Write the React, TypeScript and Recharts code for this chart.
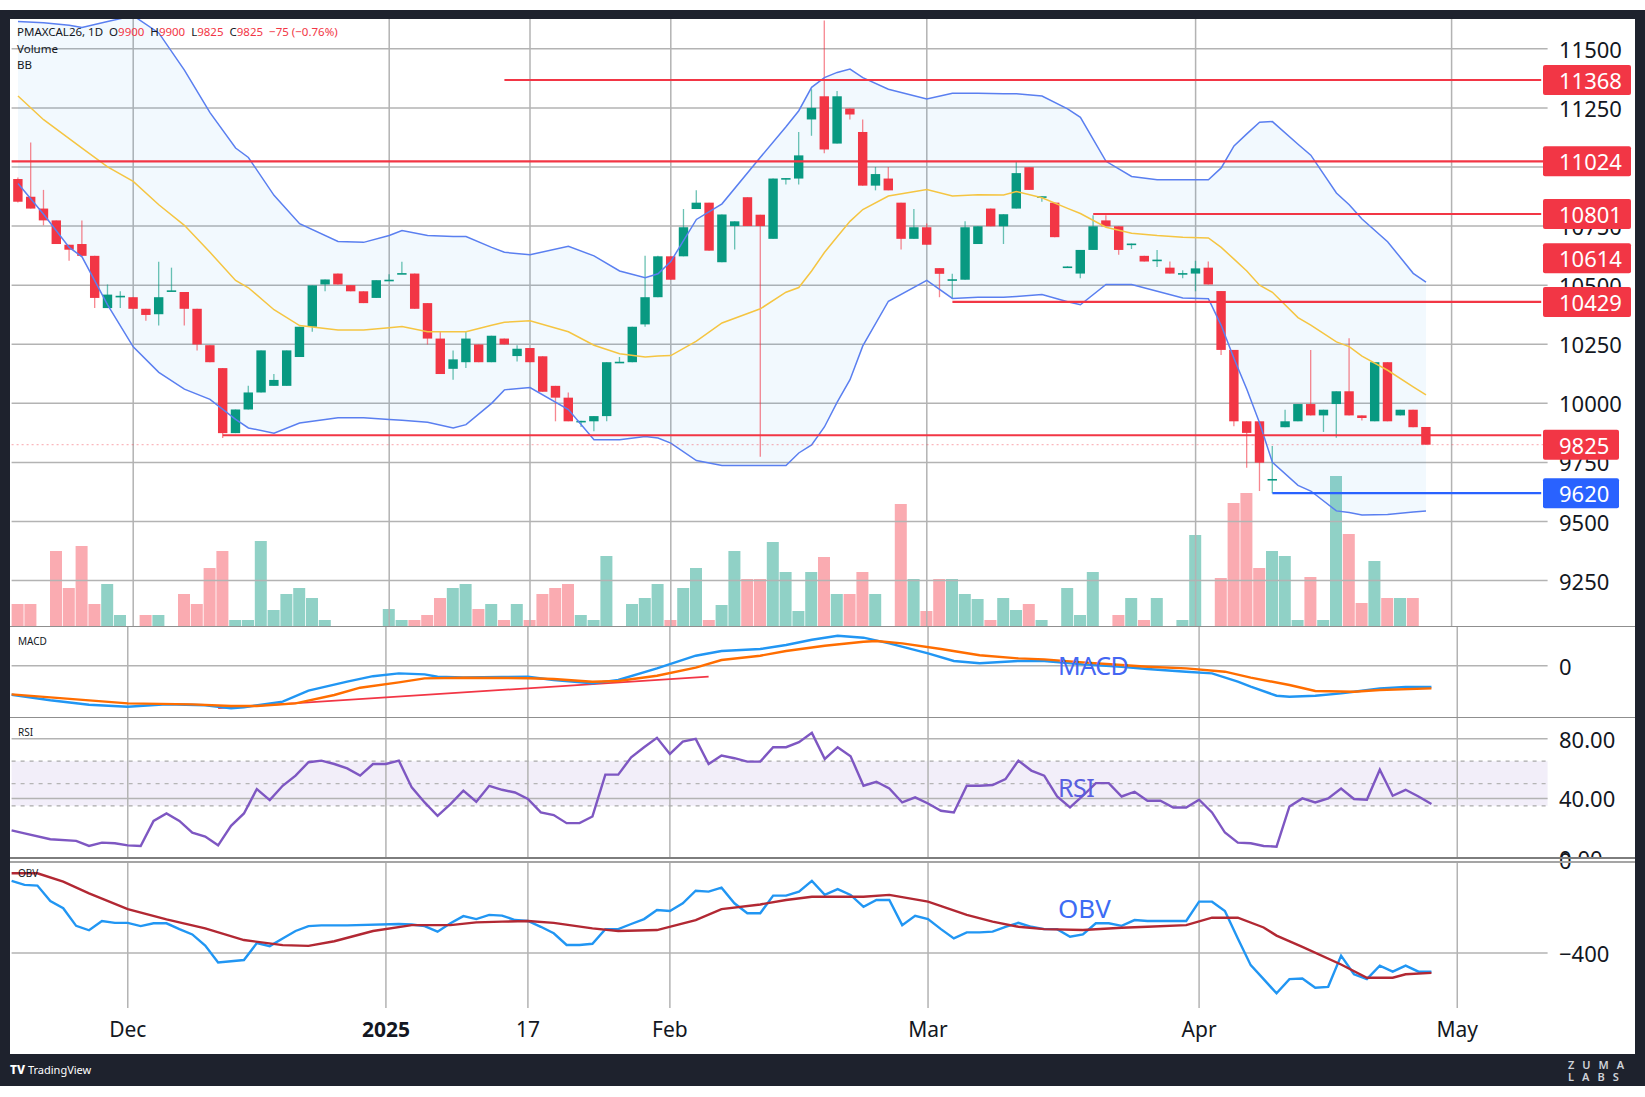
import React from "react";
import {
  ComposedChart,
  Bar,
  Line,
  Area,
  XAxis,
  YAxis,
  ReferenceLine,
  ReferenceArea,
  Cell,
} from "recharts";

const FONT = '"Noto Sans", "DejaVu Sans", sans-serif';
const GREEN = "#089981";
const RED = "#f23645";
const GRID = "#b3b3b3";
const INK = "#131722";

// daily bars, 19 Nov 2024 .. 29 Apr 2025 (index 0..110)
const opens = [
  10949, 10874, 10824, 10774, 10671, 10674, 10624, 10403, 10450, 10449, 10400, 10377, 10475, 10471, 10400, 10246,
  10149, 9874, 9974, 10046, 10074, 10074, 10196, 10324, 10503, 10549, 10500, 10474, 10446, 10521, 10549, 10549,
  10424, 10274, 10146, 10174, 10249, 10174, 10274, 10200, 10234, 10199, 10074, 10024, 9924, 9924, 9946, 10174,
  10174, 10334, 10449, 10622, 10622, 10822, 10849, 10597, 10750, 10872, 10798, 10696, 10951, 10951, 11201, 11299,
  11099, 11247, 11148, 10921, 10951, 10849, 10696, 10745, 10572, 10523, 10523, 10674, 10824, 10749, 10824, 10999,
  10874, 10849, 10577, 10549, 10649, 10774, 10749, 10674, 10624, 10606, 10574, 10549, 10549, 10574, 10475, 10226,
  9924, 9924, 9678, 9899, 9924, 9997, 9949, 9997, 10051, 9949, 9924, 10174, 9949, 9973, 9900,
];
const highs = [
  10955, 11103, 10903, 10774, 10671, 10774, 10624, 10503, 10474, 10449, 10400, 10599, 10574, 10471, 10400, 10246,
  10149, 9974, 10074, 10224, 10124, 10224, 10324, 10499, 10524, 10549, 10500, 10474, 10521, 10546, 10599, 10549,
  10424, 10303, 10224, 10303, 10249, 10286, 10274, 10246, 10234, 10199, 10074, 10046, 9926, 9946, 10174, 10196,
  10324, 10624, 10624, 10622, 10822, 10901, 10849, 10799, 10770, 10872, 10798, 10951, 10953, 11148, 11329, 11620,
  11321, 11247, 11201, 11000, 11000, 10849, 10822, 10761, 10572, 10548, 10770, 10749, 10824, 10800, 11024, 10999,
  10876, 10849, 10580, 10649, 10796, 10796, 10749, 10676, 10624, 10649, 10600, 10563, 10603, 10600, 10475, 10226,
  9924, 9924, 9819, 9973, 9997, 10226, 9973, 10051, 10275, 9949, 10174, 10174, 9973, 9973, 9900,
];
const lows = [
  10850, 10824, 10753, 10674, 10603, 10624, 10403, 10403, 10403, 10400, 10349, 10329, 10475, 10329, 10224, 10174,
  9853, 9874, 9974, 10046, 10074, 10074, 10196, 10303, 10474, 10503, 10474, 10424, 10446, 10521, 10549, 10400,
  10249, 10124, 10100, 10149, 10174, 10174, 10249, 10177, 10174, 10049, 9924, 9924, 9900, 9882, 9924, 10174,
  10174, 10324, 10449, 10523, 10622, 10822, 10646, 10597, 10651, 10750, 9774, 10696, 10926, 10926, 11132, 11058,
  11099, 11201, 10921, 10901, 10901, 10651, 10696, 10671, 10449, 10441, 10523, 10674, 10749, 10674, 10824, 10903,
  10853, 10703, 10574, 10529, 10649, 10749, 10629, 10653, 10600, 10577, 10549, 10529, 10474, 10503, 10205, 9903,
  9728, 9629, 9620, 9899, 9924, 9949, 9879, 9854, 9949, 9927, 9924, 9924, 9949, 9899, 9825,
];
const closes = [
  10853, 10824, 10774, 10674, 10650, 10624, 10446, 10460, 10455, 10400, 10374, 10449, 10478, 10400, 10249, 10174,
  9874, 9974, 10046, 10224, 10099, 10224, 10324, 10499, 10524, 10503, 10474, 10424, 10521, 10523, 10551, 10400,
  10274, 10124, 10186, 10274, 10174, 10286, 10249, 10231, 10174, 10049, 10024, 9924, 9926, 9946, 10174, 10176,
  10324, 10449, 10622, 10523, 10745, 10849, 10646, 10799, 10770, 10750, 10750, 10951, 10953, 11049, 11250, 11074,
  11299, 11222, 10921, 10970, 10901, 10696, 10745, 10671, 10548, 10525, 10745, 10749, 10749, 10800, 10974, 10903,
  10876, 10703, 10579, 10649, 10749, 10749, 10649, 10676, 10600, 10608, 10549, 10551, 10571, 10503, 10226, 9924,
  9875, 9749, 9680, 9924, 9997, 9949, 9973, 10051, 9949, 9938, 10174, 9924, 9973, 9899, 9825,
];
const volumes = [
  22, 22, 0, 75, 38, 80, 22, 42, 11, 0, 11, 11, 0, 32, 22, 58, 75, 6, 6, 85, 16, 32, 38, 28, 6,
  0, 0, 0, 0, 17, 6, 6, 11, 28, 38, 42, 17, 22, 6, 22, 6, 32, 38, 42, 11, 6, 70, 0, 22, 28, 42,
  6, 38, 58, 6, 21, 75, 47, 47, 84, 54, 15, 54, 69, 32, 32, 54, 32, 0, 122, 47, 15, 47, 47, 32, 27,
  6, 28, 16, 22, 6, 0, 38, 11, 54, 0, 11, 28, 6, 28, 0, 6, 91, 0, 48, 123, 133, 58, 75, 70, 6,
  49, 6, 150, 92, 23, 65, 28, 28, 28, 0,
];

// Bollinger bands (20, 2) read at these bars
const bbIdx = [
  0, 2, 4, 5, 7, 9, 11, 13, 15, 17, 18, 20, 22, 25, 27, 29, 30, 32, 34, 35, 37, 38, 40, 43, 45, 47, 49, 50, 51, 53,
  55, 58, 60, 61, 62, 63, 64, 65, 66, 68, 71, 73, 75, 77, 78, 80, 82, 83, 85, 87, 89, 91, 93, 94, 95, 96, 97, 98,
  100, 101, 103, 104, 105, 107, 109, 110,
];
const bbUpper = [
  11615, 11610, 11600, 11590, 11615, 11640, 11567, 11410, 11230, 11080, 11040, 10880, 10760, 10685, 10681, 10710,
  10731, 10710, 10706, 10706, 10660, 10639, 10629, 10664, 10624, 10560, 10531, 10548, 10600, 10778, 10844, 11041,
  11170, 11238, 11337, 11378, 11400, 11414, 11378, 11329, 11288, 11312, 11312, 11310, 11310, 11300, 11246, 11210,
  11024, 10960, 10946, 10946, 10946, 10996, 11089, 11140, 11189, 11192, 11096, 11050, 10890, 10840, 10780, 10684,
  10550, 10513,
];
const bbMid = [
  11300, 11200, 11120, 11080, 11000, 10939, 10840, 10753, 10639, 10520, 10489, 10396, 10329, 10310, 10310, 10320,
  10325, 10303, 10303, 10303, 10330, 10343, 10349, 10303, 10246, 10210, 10196, 10200, 10202, 10263, 10340, 10400,
  10470, 10490, 10560, 10638, 10705, 10770, 10820, 10877, 10905, 10877, 10882, 10881, 10896, 10870, 10825, 10803,
  10745, 10720, 10710, 10703, 10700, 10660, 10610, 10560, 10500, 10470, 10363, 10331, 10260, 10240, 10200, 10140,
  10070, 10036,
];
const bbLower = [
  10930, 10800, 10660, 10620, 10417, 10239, 10131, 10060, 10017, 9932, 9896, 9874, 9917, 9939, 9939, 9932, 9928,
  9920, 9896, 9910, 10000, 10057, 10067, 9974, 9846, 9846, 9860, 9853, 9832, 9758, 9737, 9737, 9737, 9790, 9824,
  9900, 10005, 10100, 10243, 10432, 10520, 10444, 10449, 10449, 10452, 10460, 10430, 10417, 10503, 10503, 10474,
  10446, 10443, 10330, 10190, 10060, 9917, 9750, 9653, 9629, 9545, 9538, 9528, 9530, 9540, 9545,
];

// MACD (12, 26, 9)
const macdIdx = [0, 3, 6, 9, 12, 15, 17, 18, 21, 23, 26, 28, 30, 32, 33, 35, 38, 40, 42, 45, 47, 50, 53, 55, 58, 60, 62, 64, 66, 68, 71, 73, 75, 78, 80, 83, 86, 88, 91, 93, 95, 96, 98, 99, 101, 103, 104, 106, 108, 110];
const macdVals = [-29, -34.5, -39, -41, -38.5, -39.5, -42.7, -41.5, -36, -25, -16, -10.5, -7.7, -8.7, -11, -11.7, -11.3, -11, -14.3, -17.7, -14.3, -2.7, 10, 14.7, 16.7, 20.7, 26, 30, 28, 22.3, 12.3, 4.7, 2.5, 4.7, 4.7, 1.3, -1, -3.3, -6, -7.7, -16, -21, -30, -31, -30, -27.7, -26, -22.7, -21.3, -21.3];
const sigIdx = [0, 4, 9, 14, 17, 19, 22, 25, 27, 30, 32, 35, 40, 42, 45, 47, 50, 53, 55, 58, 60, 63, 66, 67, 69, 72, 75, 78, 80, 83, 86, 88, 91, 94, 96, 99, 101, 104, 106, 110];
const sigVals = [-28.7, -32.7, -37.7, -38.7, -40.3, -40.3, -37.7, -29.3, -22, -16.7, -12.7, -12, -12.5, -13.3, -16, -15.3, -10, -2, 5.7, 10, 14.7, 20, 24, 24.7, 22.3, 16.7, 10.5, 7.3, 6.3, 3.3, 0.7, -1, -2.7, -6, -12, -19.3, -25.3, -26, -24.3, -22.7];
const macdTrend = [
  { x: 16, y: -42.5 },
  { x: 54, y: -11 },
];

// RSI (14)
const rsiIdx = [0, 1, 3, 5, 6, 7, 8, 9, 10, 11, 12, 13, 14, 15, 16, 17, 18, 19, 20, 21, 22, 23, 24, 25, 26, 27, 28, 29, 30, 31, 32, 33, 34, 35, 36, 37, 38, 39, 40, 41, 42, 43, 44, 45, 46, 47, 48, 49, 50, 51, 52, 53, 54, 55, 56, 57, 58, 59, 60, 61, 62, 63, 64, 65, 66, 67, 68, 69, 70, 71, 72, 73, 74, 75, 76, 77, 78, 79, 80, 81, 82, 83, 84, 85, 86, 87, 88, 89, 90, 91, 92, 93, 94, 95, 96, 97, 98, 99, 100, 101, 102, 103, 104, 105, 106, 107, 108, 109, 110];
const rsiVals = [18.5, 16.5, 12.6, 11.5, 8.1, 10.3, 9.9, 8.5, 8.1, 24.9, 29.9, 24.9, 17, 14.4, 8.5, 21.6, 29.9, 46.3, 38.9, 48.5, 55.3, 64.3, 65.4, 63.1, 60.2, 55.3, 63.1, 63.1, 65.4, 47.4, 37.3, 28.3, 36.2, 45.2, 37.8, 48.5, 45.8, 44, 39.6, 30.6, 28.8, 23.4, 23.4, 27.9, 56, 56, 67.6, 74.4, 80.7, 69.9, 78.2, 80, 63.1, 68.8, 67, 64.7, 64.7, 74.4, 74.4, 77.8, 84, 66.5, 74.4, 68.3, 48.5, 51.2, 46.7, 37.3, 40.7, 36.6, 31.7, 30.6, 48.5, 48.5, 49, 53, 65.4, 58.7, 55.3, 41.3, 33.9, 41.8, 50.3, 50.3, 41.3, 44.5, 38.4, 38.4, 33.9, 33.9, 39.1, 30.6, 17.1, 10.3, 9.9, 8.1, 7.6, 34.6, 40, 37.3, 40, 46.7, 39.6, 39.1, 59.3, 41.8, 45.8, 41.3, 36.2];

// OBV and its moving average
const obvIdx = [0, 1, 2, 3, 4, 5, 6, 7, 8, 9, 10, 11, 12, 13, 14, 15, 16, 17, 18, 19, 20, 21, 22, 23, 24, 26, 30, 31, 32, 33, 34, 35, 36, 37, 38, 39, 40, 41, 42, 43, 44, 45, 46, 47, 48, 49, 50, 51, 52, 53, 54, 55, 56, 57, 58, 59, 60, 61, 62, 63, 64, 65, 66, 67, 68, 69, 70, 71, 72, 73, 74, 75, 76, 77, 78, 79, 80, 81, 82, 83, 84, 85, 86, 87, 88, 89, 90, 91, 92, 93, 94, 95, 96, 97, 98, 99, 100, 101, 102, 103, 104, 105, 106, 107, 108, 109, 110];
const obvVals = [-90, -107, -110, -176, -207, -283, -302, -262, -270, -270, -284, -272, -272, -297, -320, -368, -440, -435, -430, -357, -370, -337, -305, -284, -281, -281, -275, -277, -284, -308, -272, -241, -254, -236, -239, -258, -262, -287, -315, -365, -365, -360, -297, -297, -275, -254, -215, -219, -186, -132, -136, -119, -186, -229, -229, -153, -153, -136, -90, -150, -125, -150, -201, -172, -172, -280, -240, -254, -297, -337, -311, -311, -308, -287, -270, -287, -297, -297, -330, -320, -272, -272, -283, -258, -262, -262, -262, -262, -179, -179, -219, -337, -452, -512, -573, -512, -509, -549, -545, -411, -491, -512, -454, -480, -454, -480, -480];
const obvMaIdx = [0, 2, 4, 6, 9, 12, 15, 18, 21, 23, 25, 28, 31, 34, 36, 38, 40, 42, 45, 47, 50, 53, 55, 58, 60, 62, 66, 68, 71, 74, 76, 78, 80, 83, 86, 88, 91, 93, 95, 97, 98, 100, 103, 105, 107, 108, 110];
const obvMaVals = [-57, -57, -93, -143, -211, -255, -294, -344, -366, -369, -349, -305, -280, -280, -268, -265, -262, -270, -294, -305, -301, -258, -211, -191, -172, -158, -158, -150, -179, -236, -265, -287, -297, -301, -291, -287, -280, -248, -248, -290, -325, -373, -449, -506, -506, -491, -485];

// axes
const priceTicks = [9250, 9500, 9750, 10000, 10250, 10500, 10750, 11000, 11250, 11500];
const monthIdx = [9, 29, 40, 51, 71, 92, 112];
const monthLabel = ["Dec", "2025", "17", "Feb", "Mar", "Apr", "May"];

// drawn levels
const redLevels = [11368, 11024, 10801, 10429, 9865];
const redLevelFrom = [38, -1, 84, 73, 16];
const blueLevel = 9620;
const blueLevelFrom = 98;
const tagOnly = 10614;
const lastPrice = 9825;

const N = 120;
const rows: any[] = Array.from({ length: N }, (_, i) => ({ i, bbR: [null, null] }));
opens.forEach((o, k) => {
  Object.assign(rows[k], { o, h: highs[k], l: lows[k], c: closes[k], vol: volumes[k] });
});
bbIdx.forEach((b, k) => {
  rows[b].bbU = bbUpper[k];
  rows[b].bbM = bbMid[k];
  rows[b].bbL = bbLower[k];
  rows[b].bbR = [bbLower[k], bbUpper[k]];
});
const put = (key: string, idx: number[], vals: number[]) => idx.forEach((b, k) => (rows[b][key] = vals[k]));
put("macd", macdIdx, macdVals);
put("sig", sigIdx, sigVals);
put("rsi", rsiIdx, rsiVals);
put("obv", obvIdx, obvVals);
put("obvMa", obvMaIdx, obvMaVals);

const W = 1636;
const MARGIN = { top: 0, bottom: 0, left: 11.6, right: 88.4 };
const LABEL_X = 1559;
const PRICE_DOMAIN = [9058, 11626];

function Candle(p: any) {
  const d = p.payload;
  if (!d || d.o == null) return <g />;
  const cx = p.x + p.width / 2;
  const span = d.h - d.l;
  const k = span > 0 ? p.height / span : 0;
  const yOf = (v: number) => p.y + (d.h - v) * k;
  const color = d.c >= d.o ? GREEN : RED;
  const top = yOf(Math.max(d.o, d.c));
  const bot = yOf(Math.min(d.o, d.c));
  return (
    <g>
      <line x1={cx} x2={cx} y1={p.y} y2={p.y + p.height} stroke={color} strokeOpacity={0.6} strokeWidth={1.3} />
      <rect x={cx - 4.7} y={top} width={9.4} height={Math.max(bot - top, 1.6)} fill={color} />
    </g>
  );
}

function AxisText(p: any) {
  const vb = p.viewBox || {};
  return (
    <text x={LABEL_X} y={vb.y} dominantBaseline="central" fontSize={22} fill={INK} fontFamily={FONT}>
      {p.text}
    </text>
  );
}

function Tag(p: any) {
  const vb = p.viewBox || {};
  const cy = vb.y;
  return (
    <g>
      <rect x={1543} y={cy - 15} width={p.w || 88} height={30} rx={2} fill={p.bg} />
      <text x={LABEL_X} y={cy} dominantBaseline="central" fontSize={22} fill="#fff" fontFamily={FONT}>
        {p.text}
      </text>
    </g>
  );
}

function TimeText(p: any) {
  const vb = p.viewBox || {};
  return (
    <text
      x={vb.x}
      y={vb.y + vb.height + 21}
      textAnchor="middle"
      dominantBaseline="central"
      fontSize={21}
      fontWeight={p.bold ? 700 : 400}
      fill={INK}
      fontFamily={FONT}
    >
      {p.text}
    </text>
  );
}

const vLines = (yAxisId?: string) =>
  monthIdx.map((m) => (
    <ReferenceLine key={"v" + m} x={m} yAxisId={yAxisId} stroke={GRID} strokeWidth={1.5} />
  ));

const abs = (top: number, h: number): React.CSSProperties => ({ position: "absolute", left: 0, top, width: W, height: h });

export default function App() {
  return (
    <div style={{ position: "absolute", left: 0, top: 0, width: 1645, height: 1097, background: "#fff", overflow: "hidden", fontFamily: FONT }}>
      <div style={{ position: "absolute", left: 0, top: 10, width: 1645, height: 1076, background: "#1e222d" }} />
      <div style={{ position: "absolute", left: 10, top: 19, width: 1625, height: 1035, background: "#fff" }} />

      {/* grid + volume */}
      <div style={abs(19, 607)}>
        <ComposedChart width={W} height={607} data={rows} margin={MARGIN}>
          <XAxis dataKey="i" type="category" hide />
          <YAxis yAxisId="p" hide domain={PRICE_DOMAIN} allowDataOverflow />
          <YAxis yAxisId="v" hide domain={[0, 607]} allowDataOverflow />
          {priceTicks.map((t) => (
            <ReferenceLine key={t} yAxisId="p" y={t} stroke={GRID} strokeWidth={1.5} />
          ))}
          {vLines("p")}
          <Bar yAxisId="v" dataKey="vol" barSize={12} isAnimationActive={false}>
            {rows.map((r, k) => (
              <Cell key={k} fill={r.c >= r.o ? "rgba(8,153,129,0.45)" : "rgba(242,54,69,0.42)"} />
            ))}
          </Bar>
        </ComposedChart>
      </div>

      {/* price */}
      <div style={abs(19, 607)}>
        <ComposedChart width={W} height={607} data={rows} margin={MARGIN}>
          <XAxis dataKey="i" type="category" hide />
          <YAxis hide domain={PRICE_DOMAIN} allowDataOverflow />
          <Area dataKey="bbR" stroke="none" fill="#2196f3" fillOpacity={0.06} connectNulls dot={false} activeDot={false} isAnimationActive={false} />
          <Line dataKey="bbU" stroke="#5a7ff0" strokeWidth={1.5} dot={false} connectNulls isAnimationActive={false} />
          <Line dataKey="bbL" stroke="#5a7ff0" strokeWidth={1.5} dot={false} connectNulls isAnimationActive={false} />
          <Line dataKey="bbM" stroke="#f5c542" strokeWidth={1.5} dot={false} connectNulls isAnimationActive={false} />
          <ReferenceLine y={lastPrice} stroke={RED} strokeOpacity={0.45} strokeDasharray="2 3" strokeWidth={1} />
          {redLevels.map((p, k) =>
            redLevelFrom[k] < 0 ? (
              <ReferenceLine key={p} y={p} stroke={RED} strokeWidth={2.2} />
            ) : (
              <ReferenceLine key={p} segment={[{ x: redLevelFrom[k], y: p }, { x: N - 1, y: p }]} stroke={RED} strokeWidth={2.2} />
            )
          )}
          <ReferenceLine segment={[{ x: blueLevelFrom, y: blueLevel }, { x: N - 1, y: blueLevel }]} stroke="#2962ff" strokeWidth={2.2} />
          <Bar dataKey={(d: any) => (d.o == null ? null : [d.l, d.h])} shape={(p: any) => <Candle {...p} />} isAnimationActive={false} />
          {priceTicks.map((t) => (
            <ReferenceLine key={"t" + t} y={t} stroke="none" label={<AxisText text={String(t)} />} />
          ))}
          {redLevels.slice(0, 4).map((p) => (
            <ReferenceLine key={"g" + p} y={p} stroke="none" label={<Tag text={String(p)} bg={RED} />} />
          ))}
          <ReferenceLine y={tagOnly} stroke="none" label={<Tag text={String(tagOnly)} bg={RED} />} />
          <ReferenceLine y={lastPrice} stroke="none" label={<Tag text={String(lastPrice)} bg={RED} w={76} />} />
          <ReferenceLine y={blueLevel} stroke="none" label={<Tag text={String(blueLevel)} bg="#2962ff" w={76} />} />
        </ComposedChart>
      </div>

      {/* MACD */}
      <div style={abs(627, 90)}>
        <ComposedChart width={W} height={90} data={rows} margin={MARGIN}>
          <XAxis dataKey="i" type="category" hide />
          <YAxis hide domain={[-51.3, 38.7]} allowDataOverflow />
          {vLines()}
          <ReferenceLine y={0} stroke={GRID} strokeWidth={1.5} label={<AxisText text="0" />} />
          <ReferenceLine segment={macdTrend} stroke={RED} strokeWidth={1.8} />
          <Line dataKey="macd" stroke="#2196f3" strokeWidth={2.4} dot={false} connectNulls isAnimationActive={false} />
          <Line dataKey="sig" stroke="#ff6d00" strokeWidth={2.4} dot={false} connectNulls isAnimationActive={false} />
        </ComposedChart>
      </div>

      {/* RSI */}
      <div style={abs(718, 140)}>
        <ComposedChart width={W} height={140} data={rows} margin={MARGIN}>
          <XAxis dataKey="i" type="category" hide />
          <YAxis hide domain={[0, 94]} allowDataOverflow />
          <ReferenceArea y1={35} y2={65} fill="#7e57c2" fillOpacity={0.1} stroke="none" />
          {vLines()}
          <ReferenceLine y={80} stroke={GRID} strokeWidth={1.5} label={<AxisText text="80.00" />} />
          <ReferenceLine y={40} stroke={GRID} strokeWidth={1.5} label={<AxisText text="40.00" />} />
          <ReferenceLine y={65} stroke="#a9a9a9" strokeDasharray="4 5" strokeWidth={1.2} />
          <ReferenceLine y={50} stroke="#b5b5b5" strokeDasharray="4 5" strokeWidth={1.2} />
          <ReferenceLine y={35} stroke="#a9a9a9" strokeDasharray="4 5" strokeWidth={1.2} />
          <ReferenceLine y={0} stroke="none" label={<AxisText text="0.00" />} />
          <Line dataKey="rsi" stroke="#7e57c2" strokeWidth={2.4} dot={false} connectNulls isAnimationActive={false} />
        </ComposedChart>
      </div>

      {/* OBV + time axis */}
      <div style={abs(840, 214)}>
        <ComposedChart width={W} height={214} data={rows} margin={{ ...MARGIN, top: 22, bottom: 46 }}>
          <XAxis dataKey="i" type="category" hide />
          <YAxis hide domain={[-636, -8.6]} allowDataOverflow />
          {monthIdx.map((m, k) => (
            <ReferenceLine key={"m" + m} x={m} stroke={GRID} strokeWidth={1.5} label={<TimeText text={monthLabel[k]} bold={monthLabel[k] === "2025"} />} />
          ))}
          <ReferenceLine y={-400} stroke={GRID} strokeWidth={1.5} label={<AxisText text={"\u2212400"} />} />
          <ReferenceLine y={0} ifOverflow="visible" stroke="none" label={<AxisText text="0" />} />
          <Line dataKey="obv" stroke="#2196f3" strokeWidth={2.4} dot={false} connectNulls isAnimationActive={false} />
          <Line dataKey="obvMa" stroke="#b22833" strokeWidth={2.4} dot={false} connectNulls isAnimationActive={false} />
        </ComposedChart>
      </div>

      {/* pane separators */}
      <div style={{ position: "absolute", left: 10, top: 625.5, width: 1625, height: 1.5, background: "#8f8f8f" }} />
      <div style={{ position: "absolute", left: 10, top: 716.5, width: 1625, height: 1.5, background: "#8f8f8f" }} />
      <div style={{ position: "absolute", left: 10, top: 857, width: 1625, height: 2, background: "#7d7d7d" }} />
      <div style={{ position: "absolute", left: 10, top: 861, width: 1625, height: 1.5, background: "#a5a5a5" }} />

      {/* legends */}
      <div style={{ position: "absolute", left: 17, top: 24, fontSize: 11.5, lineHeight: "16.5px", color: INK, whiteSpace: "pre" }}>
        <div>
          {"PMAXCAL26, 1D  O"}
          <span style={{ color: RED }}>9900</span>
          {"  H"}
          <span style={{ color: RED }}>9900</span>
          {"  L"}
          <span style={{ color: RED }}>9825</span>
          {"  C"}
          <span style={{ color: RED }}>9825</span>
          <span style={{ color: RED }}>{"  \u221275 (\u22120.76%)"}</span>
        </div>
        <div>Volume</div>
        <div>BB</div>
      </div>
      <div style={{ position: "absolute", left: 18, top: 634, fontSize: 10, color: INK }}>MACD</div>
      <div style={{ position: "absolute", left: 18, top: 725, fontSize: 10, color: INK }}>RSI</div>
      <div style={{ position: "absolute", left: 18, top: 866, fontSize: 10, color: INK }}>OBV</div>

      <div style={{ position: "absolute", left: 1058, top: 648, fontSize: 25, lineHeight: "34px", color: "#4466f2", letterSpacing: -0.5 }}>MACD</div>
      <div style={{ position: "absolute", left: 1058, top: 770, fontSize: 25, lineHeight: "34px", color: "#5a5fe0", letterSpacing: -0.5 }}>RSI</div>
      <div style={{ position: "absolute", left: 1058, top: 891, fontSize: 26, lineHeight: "34px", color: "#3d6cf4" }}>OBV</div>

      {/* footer */}
      <div style={{ position: "absolute", left: 10, top: 1062, fontSize: 11, lineHeight: "16px", color: "#fff", whiteSpace: "pre" }}>
        <span style={{ fontWeight: 800, fontSize: 12 }}>{"TV"}</span>
        {" TradingView"}
      </div>
      <div style={{ position: "absolute", left: 1568, top: 1059, fontSize: 11, lineHeight: "12px", color: "#cfd2d8", letterSpacing: 8, fontWeight: 600 }}>
        <div>ZUMA</div>
        <div>LABS</div>
      </div>
    </div>
  );
}
